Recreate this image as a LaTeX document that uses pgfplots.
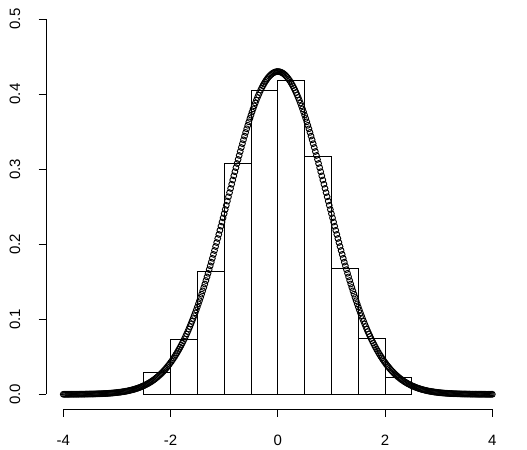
\documentclass[border=0pt]{standalone}
\usepackage{fontspec}
\setmainfont{Liberation Sans}
\usepackage{pgfplots}
\usepackage{pgfplotstable}
\pgfplotsset{compat=1.18}
\pgfplotstableread{
x y
-4.00 0.0000
-3.98 0.0000
-3.96 0.0000
-3.94 0.0000
-3.92 0.0000
-3.90 0.0000
-3.88 0.0000
-3.86 0.0001
-3.84 0.0001
-3.82 0.0001
-3.80 0.0001
-3.78 0.0001
-3.76 0.0001
-3.74 0.0001
-3.72 0.0001
-3.70 0.0002
-3.68 0.0002
-3.66 0.0002
-3.64 0.0002
-3.62 0.0002
-3.60 0.0002
-3.58 0.0003
-3.56 0.0003
-3.54 0.0003
-3.52 0.0003
-3.50 0.0004
-3.48 0.0004
-3.46 0.0004
-3.44 0.0004
-3.42 0.0005
-3.40 0.0005
-3.38 0.0006
-3.36 0.0006
-3.34 0.0007
-3.32 0.0007
-3.30 0.0008
-3.28 0.0008
-3.26 0.0009
-3.24 0.0010
-3.22 0.0010
-3.20 0.0011
-3.18 0.0012
-3.16 0.0013
-3.14 0.0014
-3.12 0.0015
-3.10 0.0016
-3.08 0.0017
-3.06 0.0019
-3.04 0.0020
-3.02 0.0022
-3.00 0.0023
-2.98 0.0025
-2.96 0.0027
-2.94 0.0028
-2.92 0.0030
-2.90 0.0033
-2.88 0.0035
-2.86 0.0037
-2.84 0.0040
-2.82 0.0042
-2.80 0.0045
-2.78 0.0048
-2.76 0.0052
-2.74 0.0055
-2.72 0.0059
-2.70 0.0062
-2.68 0.0066
-2.66 0.0071
-2.64 0.0075
-2.62 0.0080
-2.60 0.0085
-2.58 0.0090
-2.56 0.0096
-2.54 0.0102
-2.52 0.0108
-2.50 0.0114
-2.48 0.0121
-2.46 0.0128
-2.44 0.0136
-2.42 0.0143
-2.40 0.0152
-2.38 0.0160
-2.36 0.0169
-2.34 0.0179
-2.32 0.0189
-2.30 0.0199
-2.28 0.0210
-2.26 0.0222
-2.24 0.0233
-2.22 0.0246
-2.20 0.0259
-2.18 0.0272
-2.16 0.0286
-2.14 0.0301
-2.12 0.0316
-2.10 0.0332
-2.08 0.0349
-2.06 0.0366
-2.04 0.0384
-2.02 0.0402
-2.00 0.0422
-1.98 0.0441
-1.96 0.0462
-1.94 0.0484
-1.92 0.0506
-1.90 0.0529
-1.88 0.0552
-1.86 0.0577
-1.84 0.0602
-1.82 0.0628
-1.80 0.0655
-1.78 0.0683
-1.76 0.0712
-1.74 0.0741
-1.72 0.0772
-1.70 0.0803
-1.68 0.0835
-1.66 0.0868
-1.64 0.0902
-1.62 0.0937
-1.60 0.0973
-1.58 0.1009
-1.56 0.1047
-1.54 0.1085
-1.52 0.1124
-1.50 0.1164
-1.48 0.1205
-1.46 0.1247
-1.44 0.1290
-1.42 0.1334
-1.40 0.1378
-1.38 0.1423
-1.36 0.1469
-1.34 0.1516
-1.32 0.1564
-1.30 0.1612
-1.28 0.1661
-1.26 0.1711
-1.24 0.1761
-1.22 0.1812
-1.20 0.1864
-1.18 0.1916
-1.16 0.1969
-1.14 0.2022
-1.12 0.2076
-1.10 0.2130
-1.08 0.2185
-1.06 0.2240
-1.04 0.2295
-1.02 0.2350
-1.00 0.2406
-0.98 0.2462
-0.96 0.2518
-0.94 0.2574
-0.92 0.2631
-0.90 0.2687
-0.88 0.2743
-0.86 0.2799
-0.84 0.2855
-0.82 0.2910
-0.80 0.2965
-0.78 0.3020
-0.76 0.3075
-0.74 0.3129
-0.72 0.3182
-0.70 0.3235
-0.68 0.3288
-0.66 0.3339
-0.64 0.3390
-0.62 0.3440
-0.60 0.3489
-0.58 0.3537
-0.56 0.3584
-0.54 0.3630
-0.52 0.3675
-0.50 0.3719
-0.48 0.3762
-0.46 0.3803
-0.44 0.3843
-0.42 0.3881
-0.40 0.3919
-0.38 0.3954
-0.36 0.3988
-0.34 0.4021
-0.32 0.4052
-0.30 0.4081
-0.28 0.4109
-0.26 0.4134
-0.24 0.4159
-0.22 0.4181
-0.20 0.4201
-0.18 0.4220
-0.16 0.4237
-0.14 0.4251
-0.12 0.4264
-0.10 0.4275
-0.08 0.4284
-0.06 0.4291
-0.04 0.4296
-0.02 0.4299
0.00 0.4300
0.02 0.4299
0.04 0.4296
0.06 0.4291
0.08 0.4284
0.10 0.4275
0.12 0.4264
0.14 0.4251
0.16 0.4237
0.18 0.4220
0.20 0.4201
0.22 0.4181
0.24 0.4159
0.26 0.4134
0.28 0.4109
0.30 0.4081
0.32 0.4052
0.34 0.4021
0.36 0.3988
0.38 0.3954
0.40 0.3919
0.42 0.3881
0.44 0.3843
0.46 0.3803
0.48 0.3762
0.50 0.3719
0.52 0.3675
0.54 0.3630
0.56 0.3584
0.58 0.3537
0.60 0.3489
0.62 0.3440
0.64 0.3390
0.66 0.3339
0.68 0.3288
0.70 0.3235
0.72 0.3182
0.74 0.3129
0.76 0.3075
0.78 0.3020
0.80 0.2965
0.82 0.2910
0.84 0.2855
0.86 0.2799
0.88 0.2743
0.90 0.2687
0.92 0.2631
0.94 0.2574
0.96 0.2518
0.98 0.2462
1.00 0.2406
1.02 0.2350
1.04 0.2295
1.06 0.2240
1.08 0.2185
1.10 0.2130
1.12 0.2076
1.14 0.2022
1.16 0.1969
1.18 0.1916
1.20 0.1864
1.22 0.1812
1.24 0.1761
1.26 0.1711
1.28 0.1661
1.30 0.1612
1.32 0.1564
1.34 0.1516
1.36 0.1469
1.38 0.1423
1.40 0.1378
1.42 0.1334
1.44 0.1290
1.46 0.1247
1.48 0.1205
1.50 0.1164
1.52 0.1124
1.54 0.1085
1.56 0.1047
1.58 0.1009
1.60 0.0973
1.62 0.0937
1.64 0.0902
1.66 0.0868
1.68 0.0835
1.70 0.0803
1.72 0.0772
1.74 0.0741
1.76 0.0712
1.78 0.0683
1.80 0.0655
1.82 0.0628
1.84 0.0602
1.86 0.0577
1.88 0.0552
1.90 0.0529
1.92 0.0506
1.94 0.0484
1.96 0.0462
1.98 0.0441
2.00 0.0422
2.02 0.0402
2.04 0.0384
2.06 0.0366
2.08 0.0349
2.10 0.0332
2.12 0.0316
2.14 0.0301
2.16 0.0286
2.18 0.0272
2.20 0.0259
2.22 0.0246
2.24 0.0233
2.26 0.0222
2.28 0.0210
2.30 0.0199
2.32 0.0189
2.34 0.0179
2.36 0.0169
2.38 0.0160
2.40 0.0152
2.42 0.0143
2.44 0.0136
2.46 0.0128
2.48 0.0121
2.50 0.0114
2.52 0.0108
2.54 0.0102
2.56 0.0096
2.58 0.0090
2.60 0.0085
2.62 0.0080
2.64 0.0075
2.66 0.0071
2.68 0.0066
2.70 0.0062
2.72 0.0059
2.74 0.0055
2.76 0.0052
2.78 0.0048
2.80 0.0045
2.82 0.0042
2.84 0.0040
2.86 0.0037
2.88 0.0035
2.90 0.0033
2.92 0.0030
2.94 0.0028
2.96 0.0027
2.98 0.0025
3.00 0.0023
3.02 0.0022
3.04 0.0020
3.06 0.0019
3.08 0.0017
3.10 0.0016
3.12 0.0015
3.14 0.0014
3.16 0.0013
3.18 0.0012
3.20 0.0011
3.22 0.0010
3.24 0.0010
3.26 0.0009
3.28 0.0008
3.30 0.0008
3.32 0.0007
3.34 0.0007
3.36 0.0006
3.38 0.0006
3.40 0.0005
3.42 0.0005
3.44 0.0004
3.46 0.0004
3.48 0.0004
3.50 0.0004
3.52 0.0003
3.54 0.0003
3.56 0.0003
3.58 0.0003
3.60 0.0002
3.62 0.0002
3.64 0.0002
3.66 0.0002
3.68 0.0002
3.70 0.0002
3.72 0.0001
3.74 0.0001
3.76 0.0001
3.78 0.0001
3.80 0.0001
3.82 0.0001
3.84 0.0001
3.86 0.0001
3.88 0.0000
3.90 0.0000
3.92 0.0000
3.94 0.0000
3.96 0.0000
3.98 0.0000
4.00 0.0000
}\densitytable
\begin{document}
\begin{tikzpicture}
\begin{axis}[
  at={(0,0)}, anchor=south west,
  scale only axis, width=463.4bp, height=405.3bp,
  xmin=-4.32, xmax=4.32, ymin=-0.02, ymax=0.52,
  axis lines*=left, axis line style={draw=none},
  xtick={-4,-2,0,2,4}, xticklabels={-4,-2,0,2,4},
  ytick={0,0.1,0.2,0.3,0.4,0.5}, yticklabels={0.0,0.1,0.2,0.3,0.4,0.5},
  minor tick num=0,
  tick align=outside, major tick length=7.5bp,
  tick style={black, line width=0.8bp},
  ticklabel style={font=\fontsize{15bp}{17bp}\selectfont},
  xticklabel style={anchor=center}, xticklabel shift=23.7bp,
  yticklabel style={rotate=90, anchor=center}, yticklabel shift=23.6bp,
  clip=false,
]
\addplot[ybar interval, draw=black, fill=none, line width=0.8bp]
  coordinates {(-2.5,0.0298) (-2,0.0729) (-1.5,0.1636) (-1,0.3076) (-0.5,0.4044)
               (0,0.4178) (0.5,0.3164) (1,0.1676) (1.5,0.0742) (2,0.0231) (2.5,0.0231)};
\addplot[only marks, mark=o, mark size=2.9bp, mark options={line width=0.9bp, black}]
  table[x=x, y=y] {\densitytable};
\draw[line width=0.8bp] (axis cs:-4,-0.02) -- (axis cs:4,-0.02);
\draw[line width=0.8bp] (axis cs:-4.32,0) -- (axis cs:-4.32,0.5);
\end{axis}
\pgfresetboundingbox
\path[use as bounding box] (-46.1bp,-40.7bp) rectangle (480.9bp,409.3bp);
\end{tikzpicture}
\end{document}
